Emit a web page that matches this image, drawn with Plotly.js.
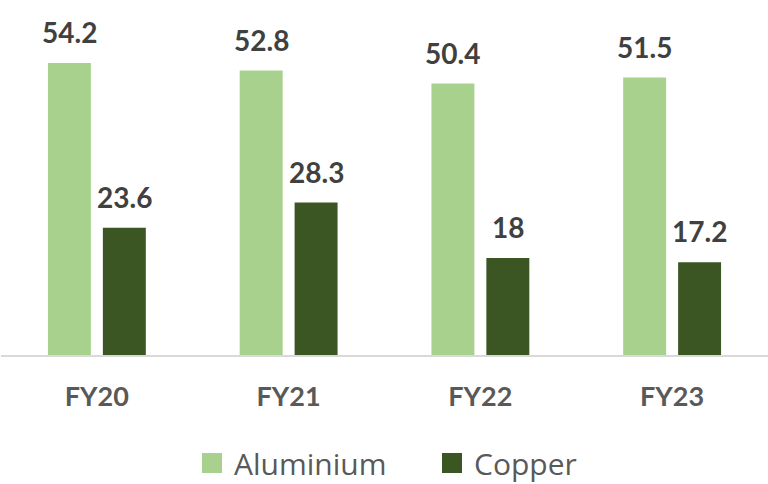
<!DOCTYPE html>
<html><head><meta charset="utf-8">
<script src="https://cdn.plot.ly/plotly-3.0.1.min.js"></script>
<style>html,body{margin:0;padding:0;background:#fff}#c{width:768px;height:484px}</style>
</head><body><div id="c"></div>
<script>
const categories = ["FY20", "FY21", "FY22", "FY23"];
const seriesNames = ["Aluminium", "Copper"];
const aluminium = [54.2, 52.8, 50.4, 51.5];
const copper = [23.6, 28.3, 18, 17.2];
const colors = ["#A9D18E", "#3B5623"];

const seriesValues = [aluminium, copper];
const traces = seriesValues.map((vals, i) => ({
  type: "bar", name: seriesNames[i], x: categories, y: vals,
  marker: {color: colors[i]}, hoverinfo: "skip", showlegend: false
}));

const annotations = [];
seriesValues.forEach((vals, i) => {
  vals.forEach((v, j) => {
    annotations.push({
      x: categories[j], y: v, xref: "x", yref: "y",
      text: "<b>" + v + "</b>", showarrow: false,
      xanchor: "center", yanchor: "bottom",
      xshift: (i === 0 ? -27.5 : 27.5), yshift: 12,
      font: {family: "Lato, sans-serif", size: 28, color: "#404040"}
    });
  });
});

// legend built with shapes + text
const plotW = 767, plotH = 355;
const legendItems = [{sq: 202, tx: 232}, {sq: 442, tx: 472}];
const shapes = [];
legendItems.forEach((it, i) => {
  shapes.push({
    type: "rect", xref: "paper", yref: "paper",
    x0: (it.sq - 1) / plotW, x1: (it.sq + 20 - 1) / plotW,
    y0: (plotH - 473) / plotH, y1: (plotH - 453) / plotH,
    fillcolor: colors[i], line: {width: 0}
  });
  annotations.push({
    xref: "paper", yref: "paper", x: (it.tx - 1) / plotW, y: (plotH - 463) / plotH,
    xanchor: "left", yanchor: "middle", showarrow: false, text: seriesNames[i],
    font: {family: "'Open Sans', sans-serif", size: 30, color: "#595959"}
  });
});

const layout = {
  width: 768, height: 484,
  margin: {l: 1, r: 0, t: 0, b: 129},
  paper_bgcolor: "#ffffff", plot_bgcolor: "#ffffff",
  barmode: "group", bargap: 0.427, bargroupgap: 0.218,
  showlegend: false,
  xaxis: {
    type: "category", showline: true, linecolor: "#D9D9D9", linewidth: 1.5,
    showgrid: false, ticks: "", ticklabelstandoff: 17,
    tickfont: {family: "Lato, sans-serif", size: 27, color: "#595959", weight: "bold"},
    fixedrange: true
  },
  yaxis: {range: [0, 355 / 5.387], visible: false, showgrid: false, zeroline: false, fixedrange: true},
  annotations: annotations, shapes: shapes
};
Plotly.newPlot("c", traces, layout, {staticPlot: true, displayModeBar: false});
</script></body></html>
